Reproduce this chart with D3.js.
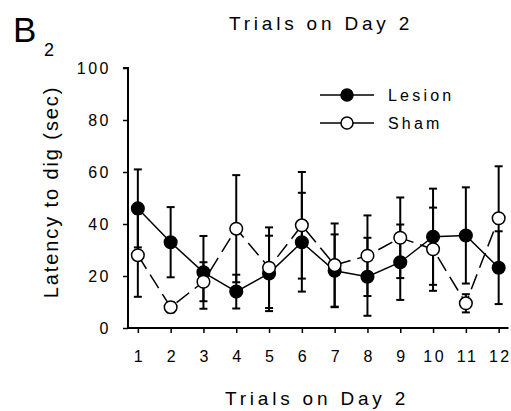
<!DOCTYPE html>
<html><head><meta charset="utf-8">
<script src="https://cdn.jsdelivr.net/npm/d3@7"></script>
<style>
body{margin:0;background:#fff;}
svg text{font-family:Arial,"Liberation Sans",sans-serif;fill:#000;}
</style></head>
<body><svg id="c" width="511" height="411"></svg>
<script>
const trials = [1,2,3,4,5,6,7,8,9,10,11,12];
const lesionMean = [46,33,21.4,14,21,33,22,19.7,25.3,35.1,35.6,23.2];
const lesionErr  = [15,13.5,14,6.5,14.5,19,14,15,14.5,18.5,18.5,14];
const shamMean   = [28,8,17.8,38.2,23.2,39.5,24.2,27.8,34.7,30.3,9.5,42.2];
const shamErr    = [16,2,7.5,20.6,15.5,20.5,16,15.5,15.5,16,3.5,20];
const yTicks = [0,20,40,60,80,100];
const seriesNames = ["Lesion","Sham"];
const titleText = "Trials on Day 2";
const xLabel = "Trials on Day 2";
const yLabel = "Latency to dig (sec)";

const svg = d3.select("#c");
const x = d3.scaleLinear().domain([0.7,12.3]).range([128,508.5]);
const y = d3.scaleLinear().domain([0,100]).range([328,68]);

// panel label
svg.append("text").attr("x",13).attr("y",42).style("font-size","35px").text("B");
svg.append("text").attr("x",44).attr("y",56).style("font-size","18px").text("2");

// title
svg.append("text").attr("x",321).attr("y",30).attr("text-anchor","middle")
  .style("font-size","19px").style("letter-spacing","3.8px").text(titleText);

// axes
const yAxis = svg.append("g").attr("transform","translate(128,0)")
  .call(d3.axisLeft(y).tickValues(yTicks).tickSize(5).tickPadding(12));
const xAxis = svg.append("g").attr("transform","translate(0,328)")
  .call(d3.axisBottom(x).tickValues(trials).tickSize(5).tickPadding(18));
[yAxis,xAxis].forEach(a=>{
  a.select(".domain").attr("stroke","#000").attr("stroke-width",2);
  a.selectAll(".tick line").attr("stroke","#000").attr("stroke-width",1.5);
  a.selectAll("text").style("font-size","16px").style("font-family",'Arial,"Liberation Sans",sans-serif').style("letter-spacing","2.5px");
});
yAxis.selectAll(".domain").attr("d","M-5,68H0V328");
xAxis.selectAll(".domain").attr("d","M128,0H508.5");
xAxis.selectAll(".tick text").attr("dx","1.2px");

// axis labels
svg.append("text").attr("x",317).attr("y",405).attr("text-anchor","middle")
  .style("font-size","19px").style("letter-spacing","3.8px").text(xLabel);
svg.append("text").attr("transform","translate(58,192) rotate(-90)").attr("text-anchor","middle")
  .style("font-size","20px").style("letter-spacing","1.9px").text(yLabel);

const sets = [
  {mean: shamMean, err: shamErr, fill:"#fff", dash:"16,7"},
  {mean: lesionMean, err: lesionErr, fill:"#000", dash:null}
];
// error bars first
sets.forEach(s=>{
  const g = svg.append("g").attr("stroke","#000").attr("stroke-width",2);
  trials.forEach((t,i)=>{
    const cx = x(t), top = y(s.mean[i]+s.err[i]), bot = y(Math.max(0,s.mean[i]-s.err[i]));
    g.append("line").attr("x1",cx).attr("x2",cx).attr("y1",top).attr("y2",bot);
    g.append("line").attr("x1",cx-4).attr("x2",cx+4).attr("y1",top).attr("y2",top);
    g.append("line").attr("x1",cx-4).attr("x2",cx+4).attr("y1",bot).attr("y2",bot);
  });
});
const line = d3.line().x((d,i)=>x(trials[i])).y(d=>y(d));
sets.forEach(s=>{
  const p = svg.append("path").datum(s.mean).attr("d",line).attr("fill","none")
    .attr("stroke","#000").attr("stroke-width",1.5);
  if(s.dash) p.attr("stroke-dasharray",s.dash);
});
[sets[1],sets[0]].forEach(s=>{
  svg.append("g").selectAll("circle").data(s.mean).join("circle")
    .attr("cx",(d,i)=>x(trials[i])).attr("cy",d=>y(d)).attr("r",6.3)
    .attr("fill",s.fill).attr("stroke","#000").attr("stroke-width",1.5);
});

// legend
const leg = svg.append("g");
[[0,95,"#000"],[1,123,"#fff"]].forEach(([k,ly,f])=>{
  leg.append("line").attr("x1",320).attr("x2",374).attr("y1",ly).attr("y2",ly).attr("stroke","#000").attr("stroke-width",1.5);
  leg.append("circle").attr("cx",347).attr("cy",ly).attr("r",6).attr("fill",f).attr("stroke","#000").attr("stroke-width",1.5);
  leg.append("text").attr("x",388).attr("y",ly+6).style("font-size","16px").style("letter-spacing","3.2px").text(seriesNames[k]);
});
</script></body></html>
